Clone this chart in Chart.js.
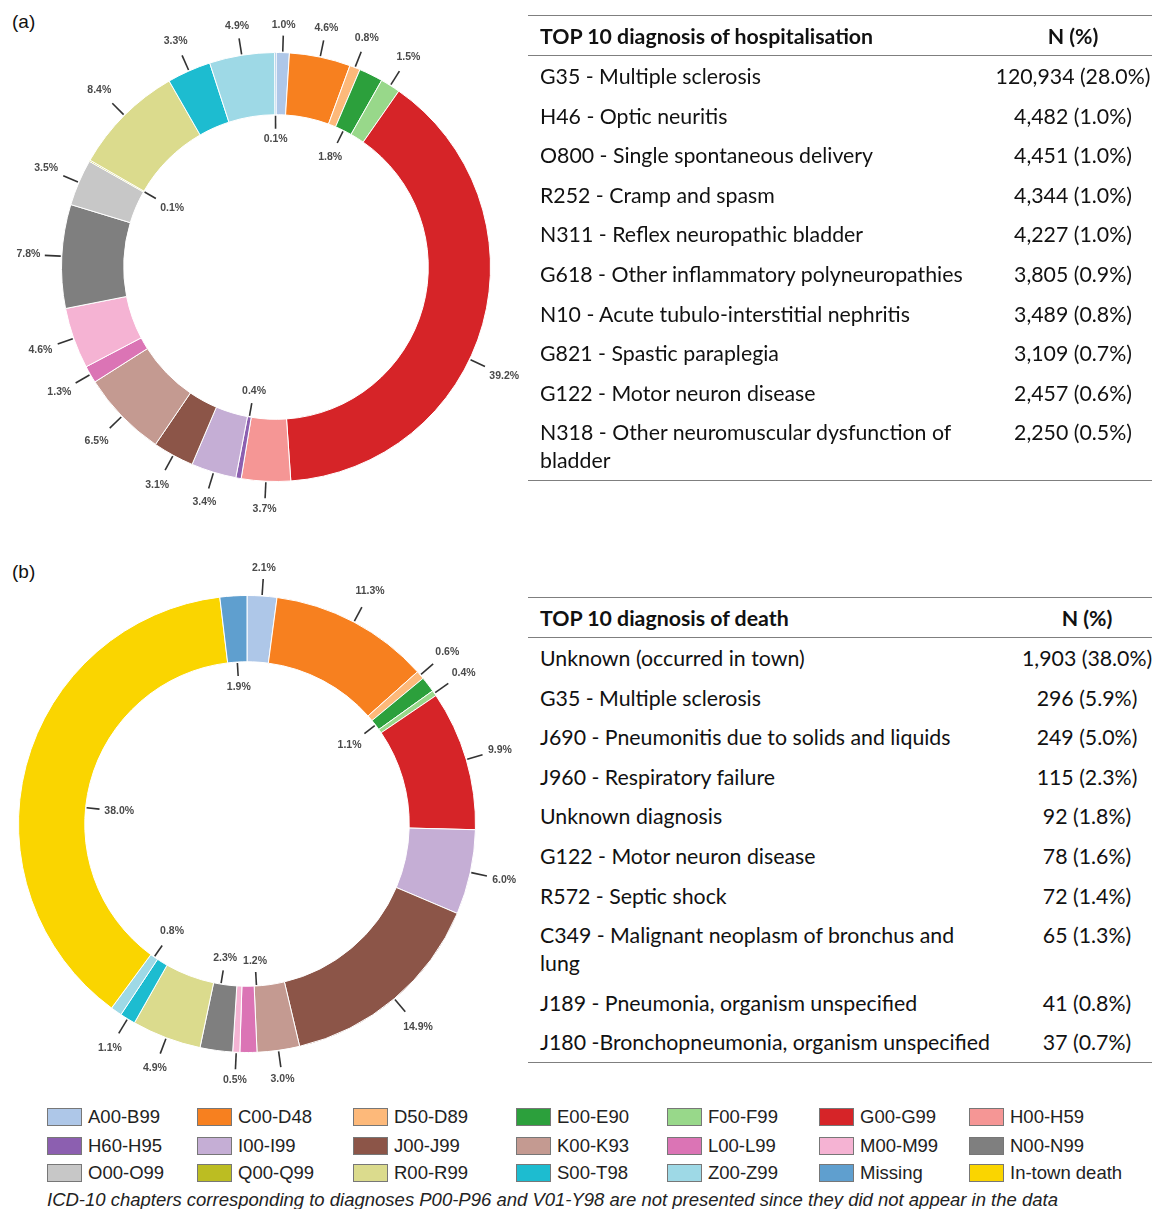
<!DOCTYPE html>
<html>
<head>
<meta charset="utf-8">
<script src="https://cdn.jsdelivr.net/npm/chart.js@4.4.1/dist/chart.umd.min.js"></script>
<style>
  body { margin: 0; background: #fff; width: 1152px; height: 1209px; position: relative; overflow: hidden; font-family: "Liberation Sans", Arial, sans-serif; }
  canvas { position: absolute; left: 0; }
  .panel { position: absolute; left: 12px; font-size: 19px; color: #111; line-height: 20px; }
  .tbl { position: absolute; left: 528px; width: 624px; font-family: Lato, "Open Sans", sans-serif; font-size: 21.3px; color: #111;
         border-top: 1.5px solid #7f7f7f; border-bottom: 1.5px solid #7f7f7f; }
  .row { display: flex; line-height: 28px; padding: 6px 0 5.6px 0; }
  .row.head { font-weight: bold; border-bottom: 1.5px solid #7f7f7f; padding: 6px 0 5px 0; }
  .row .lab { flex: 1; padding-left: 12px; white-space: pre-line; }
  .row .val { text-align: center; white-space: nowrap; }
  .leg { position: absolute; font-size: 18.5px; color: #222; line-height: 20px; white-space: nowrap; }
  .leg i { display: inline-block; width: 33px; height: 16px; border: 1px solid #777; vertical-align: -3px; margin-right: 6px; }
  .note { position: absolute; left: 47px; top: 1189px; font-size: 18.5px; font-style: italic; color: #222; white-space: nowrap; }
</style>
</head>
<body>
<div class="panel" style="top:12px">(a)</div>
<div class="panel" style="top:562px">(b)</div>
<canvas id="graficoA" width="540" height="530" style="top:0"></canvas>
<canvas id="graficoB" width="520" height="560" style="top:540px"></canvas>
<div class="tbl" id="tablaA" style="top:15px"></div>
<div class="tbl" id="tablaB" style="top:597px"></div>
<div id="leyenda"></div>
<div class="note">ICD-10 chapters corresponding to diagnoses P00-P96 and V01-Y98 are not presented since they did not appear in the data</div>

<script>
const categorias = ['A00-B99', 'C00-D48', 'D50-D89', 'E00-E90', 'F00-F99', 'G00-G99', 'H00-H59',
    'H60-H95', 'I00-I99', 'J00-J99', 'K00-K93', 'L00-L99', 'M00-M99', 'N00-N99',
    'O00-O99', 'Q00-Q99', 'R00-R99', 'S00-T98', 'Z00-Z99', 'Missing', 'In-town death'];
const colores = ['#aec7e8', '#f7801f', '#fdb97a', '#2ca03c', '#98d88a', '#d62428', '#f59695',
    '#8c5fb0', '#c5aed5', '#8c5548', '#c49a91', '#db74b5', '#f5b3d3', '#7f7f7f',
    '#c7c7c7', '#bcbd22', '#dbdb8d', '#1dbcd0', '#9ed9e6', '#5f9fcf', '#fad500'];

// (a) hospitalisation, clockwise from 12 o'clock
const etiquetasA = ['A00-B99', 'C00-D48', 'D50-D89', 'E00-E90', 'F00-F99', 'G00-G99', 'H00-H59',
    'H60-H95', 'I00-I99', 'J00-J99', 'K00-K93', 'L00-L99', 'M00-M99', 'N00-N99',
    'O00-O99', 'Q00-Q99', 'R00-R99', 'S00-T98', 'Z00-Z99', 'Missing'];
const valoresA = [1.0, 4.6, 0.8, 1.8, 1.5, 39.2, 3.7, 0.4, 3.4, 3.1, 6.5, 1.3, 4.6, 7.8, 3.5, 0.1, 8.4, 3.3, 4.9, 0.1];

// (b) death, clockwise from 12 o'clock
const etiquetasB = ['A00-B99', 'C00-D48', 'D50-D89', 'E00-E90', 'F00-F99', 'G00-G99', 'I00-I99',
    'J00-J99', 'K00-K93', 'L00-L99', 'M00-M99', 'N00-N99', 'R00-R99', 'S00-T98', 'Z00-Z99',
    'In-town death', 'Missing'];
const valoresB = [2.1, 11.3, 0.6, 1.1, 0.4, 9.9, 6.0, 14.9, 3.0, 1.2, 0.5, 2.3, 4.9, 1.1, 0.8, 38.0, 1.9];

const diagHosp = ['G35 - Multiple sclerosis', 'H46 - Optic neuritis', 'O800 - Single spontaneous delivery',
    'R252 - Cramp and spasm', 'N311 - Reflex neuropathic bladder', 'G618 - Other inflammatory polyneuropathies',
    'N10 - Acute tubulo-interstitial nephritis', 'G821 - Spastic paraplegia', 'G122 - Motor neuron disease',
    'N318 - Other neuromuscular dysfunction of\nbladder'];
const nHosp = ['120,934 (28.0%)', '4,482 (1.0%)', '4,451 (1.0%)', '4,344 (1.0%)', '4,227 (1.0%)',
    '3,805 (0.9%)', '3,489 (0.8%)', '3,109 (0.7%)', '2,457 (0.6%)', '2,250 (0.5%)'];

const diagMuerte = ['Unknown (occurred in town)', 'G35 - Multiple sclerosis', 'J690 - Pneumonitis due to solids and liquids',
    'J960 - Respiratory failure', 'Unknown diagnosis', 'G122 - Motor neuron disease', 'R572 - Septic shock',
    'C349 - Malignant neoplasm of bronchus and\nlung', 'J189 - Pneumonia, organism unspecified',
    'J180 -Bronchopneumonia, organism unspecified'];
const nMuerte = ['1,903 (38.0%)', '296 (5.9%)', '249 (5.0%)', '115 (2.3%)', '92 (1.8%)', '78 (1.6%)',
    '72 (1.4%)', '65 (1.3%)', '41 (0.8%)', '37 (0.7%)'];

const colorDe = etq => colores[categorias.indexOf(etq)];

const etiquetasGuia = {
    id: 'etiquetasGuia',
    afterDatasetsDraw(chart, args, opts) {
        const ctx = chart.ctx;
        const meta = chart.getDatasetMeta(0);
        const ds = chart.data.datasets[0];
        ctx.save();
        ctx.font = 'bold 10.5px "Liberation Sans", Arial, sans-serif';
        ctx.fillStyle = '#4a4a4a';
        ctx.strokeStyle = '#333333';
        ctx.lineWidth = 1.6;
        ctx.textAlign = 'center';
        ctx.textBaseline = 'middle';
        meta.data.forEach((arc, i) => {
            const v = ds.data[i];
            if (!v) return;
            const etq = chart.data.labels[i];
            const p = arc.getProps(['x', 'y', 'startAngle', 'endAngle', 'innerRadius', 'outerRadius'], true);
            const a = (p.startAngle + p.endAngle) / 2 + (opts.giro[etq] || 0) * Math.PI / 180;
            const cos = Math.cos(a), sin = Math.sin(a);
            const dentro = opts.dentro.includes(etq);
            const texto = v.toFixed(1) + '%';
            const w = ctx.measureText(texto).width;
            let r0, r1, dir;
            if (dentro) { r0 = p.innerRadius - 1; r1 = r0 - 13; dir = -1; }
            else { r0 = p.outerRadius + 1; r1 = r0 + 16; dir = 1; }
            ctx.beginPath();
            ctx.moveTo(p.x + cos * r0, p.y + sin * r0);
            ctx.lineTo(p.x + cos * r1, p.y + sin * r1);
            ctx.stroke();
            const ext = Math.abs(cos) * (w / 2 + 4) + Math.abs(sin) * (5 + 5);
            const rt = r1 + dir * ext;
            ctx.fillText(texto, p.x + cos * rt, p.y + sin * rt);
        });
        ctx.restore();
    }
};

function dona(id, etiquetas, valores, padding, dentro, giro) {
    return new Chart(document.getElementById(id).getContext('2d'), {
        type: 'doughnut',
        data: {
            labels: etiquetas,
            datasets: [{
                data: valores,
                backgroundColor: etiquetas.map(colorDe),
                borderColor: '#ffffff',
                borderWidth: 1,
                hoverOffset: 0
            }]
        },
        options: {
            responsive: false,
            animation: false,
            cutout: '71%',
            layout: { padding: padding },
            plugins: {
                legend: { display: false },
                tooltip: { enabled: false },
                etiquetasGuia: { dentro: dentro, giro: giro }
            }
        },
        plugins: [etiquetasGuia]
    });
}

dona('graficoA', etiquetasA, valoresA, { left: 61, right: 49, top: 52, bottom: 48 },
    ['Missing', 'E00-E90', 'H60-H95', 'Q00-Q99'], { 'G00-G99': 10 });
dona('graficoB', etiquetasB, valoresB, { left: 18, right: 44, top: 55, bottom: 47 },
    ['E00-E90', 'L00-L99', 'N00-N99', 'Z00-Z99', 'In-town death', 'Missing'],
    { 'In-town death': -9, 'L00-L99': -3, 'N00-N99': 1.5 });

function tabla(id, titulo, diags, ns, anchoVal) {
    const el = document.getElementById(id);
    let html = `<div class="row head"><div class="lab">${titulo}</div><div class="val" style="width:${anchoVal}px">N (%)</div></div>`;
    diags.forEach((d, i) => {
        html += `<div class="row"><div class="lab">${d}</div><div class="val" style="width:${anchoVal}px">${ns[i]}</div></div>`;
    });
    el.innerHTML = html;
}
tabla('tablaA', 'TOP 10 diagnosis of hospitalisation', diagHosp, nHosp, 158);
tabla('tablaB', 'TOP 10 diagnosis of death', diagMuerte, nMuerte, 130);

const colX = [47, 197, 353, 516, 667, 819, 969];
const filaY = [1107, 1136, 1163];
const leyenda = document.getElementById('leyenda');
categorias.forEach((c, i) => {
    const d = document.createElement('div');
    d.className = 'leg';
    d.style.left = colX[i % 7] + 'px';
    d.style.top = filaY[Math.floor(i / 7)] + 'px';
    d.innerHTML = `<i style="background:${colores[i]}"></i>${c}`;
    leyenda.appendChild(d);
});
</script>
</body>
</html>
